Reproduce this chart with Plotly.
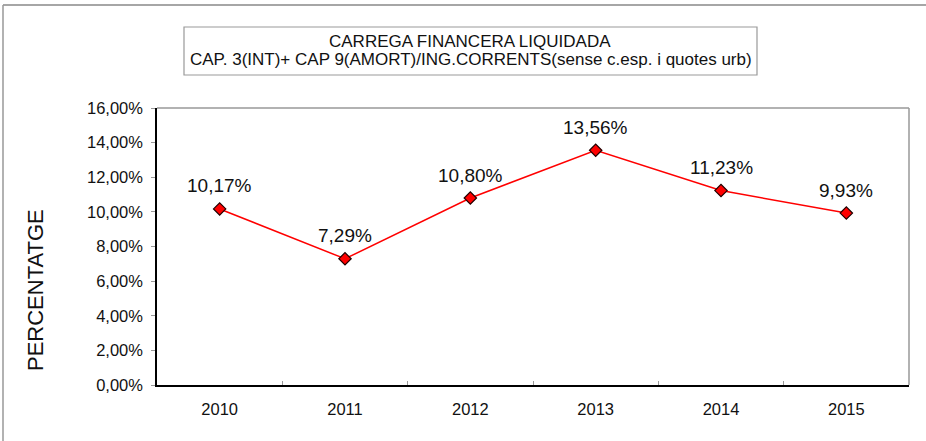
import plotly.graph_objects as go

years = ["2010", "2011", "2012", "2013", "2014", "2015"]
values = [0.1017, 0.0729, 0.1080, 0.1356, 0.1123, 0.0993]
title_line1 = "CARREGA FINANCERA LIQUIDADA"
title_line2 = "CAP. 3(INT)+ CAP 9(AMORT)/ING.CORRENTS(sense c.esp. i quotes urb)"
y_title = "PERCENTATGE"

FONT = "Arial, Liberation Sans, sans-serif"

W, H = 926, 441
L, R, T, B = 157, 909, 108, 385
pw, ph = R - L, B - T

def px(x):
    return (x - L) / pw

def py(y):
    return (B - y) / ph

def fmt(v):
    return f"{v * 100:.2f}%".replace(".", ",")

fig = go.Figure()
fig.add_trace(go.Scatter(
    x=years, y=values, mode="lines+markers",
    line=dict(color="#FF0000", width=1.5),
    marker=dict(symbol="diamond", size=9.5, color="#FF0000",
                line=dict(color="#200000", width=1.2)),
    cliponaxis=False, hoverinfo="skip",
))

annotations = [
    dict(text=fmt(v), x=i, y=v, xref="x", yref="y", showarrow=False,
         xanchor="center", yanchor="middle", yshift=23,
         font=dict(family=FONT, size=19, color="#111111"))
    for i, v in enumerate(values)
]
annotations += [
    dict(text=title_line1, xref="paper", yref="paper", x=px(470), y=py(42),
         showarrow=False, xanchor="center", yanchor="middle",
         font=dict(family=FONT, size=17, color="#111111")),
    dict(text=title_line2, xref="paper", yref="paper", x=px(471), y=py(60),
         showarrow=False, xanchor="center", yanchor="middle",
         font=dict(family=FONT, size=17, color="#111111")),
    dict(text=y_title, xref="paper", yref="paper", x=px(35), y=py(290),
         showarrow=False, textangle=-90, xanchor="center", yanchor="middle",
         font=dict(family=FONT, size=22, color="#111111")),
]

fig.update_layout(
    width=W, height=H,
    margin=dict(l=L, r=W - R, t=T, b=H - B, pad=0),
    paper_bgcolor="white", plot_bgcolor="white",
    separators=",.",
    showlegend=False,
    font=dict(family=FONT, color="#111111"),
    xaxis=dict(
        type="category", range=[-0.5, 5.5],
        showgrid=False, zeroline=False,
        showline=True, linecolor="#000000", linewidth=1.5,
        ticks="inside", tickson="boundaries", ticklen=4, tickcolor="#999999",
        tickfont=dict(family=FONT, size=16.5, color="#111111"),
        ticklabelstandoff=8,
    ),
    yaxis=dict(
        range=[0, 0.16], dtick=0.02, tickformat=".2%",
        showgrid=False, zeroline=False,
        showline=True, linecolor="#000000", linewidth=1.5,
        ticks="outside", ticklen=4, tickcolor="#999999",
        tickfont=dict(family=FONT, size=16.5, color="#111111"),
        ticklabelstandoff=5,
    ),
    shapes=[
        dict(type="line", xref="paper", yref="paper", x0=0, x1=1, y0=1, y1=1,
             line=dict(color="#999999", width=1.5)),
        dict(type="line", xref="paper", yref="paper", x0=1, x1=1, y0=0, y1=1,
             line=dict(color="#999999", width=1.5)),
        dict(type="line", xref="paper", yref="paper", x0=px(3), x1=px(930), y0=py(5), y1=py(5),
             line=dict(color="#888888", width=1.5)),
        dict(type="line", xref="paper", yref="paper", x0=px(3), x1=px(3), y0=py(5), y1=py(445),
             line=dict(color="#999999", width=1.5)),
        dict(type="rect", xref="paper", yref="paper", x0=px(184), x1=px(757), y0=py(75), y1=py(27),
             line=dict(color="#999999", width=1.2), fillcolor="white", layer="below"),
    ],
    annotations=annotations,
)

fig.write_html("out.html", config={"displayModeBar": False},
               post_script="document.body.style.margin='0';")
